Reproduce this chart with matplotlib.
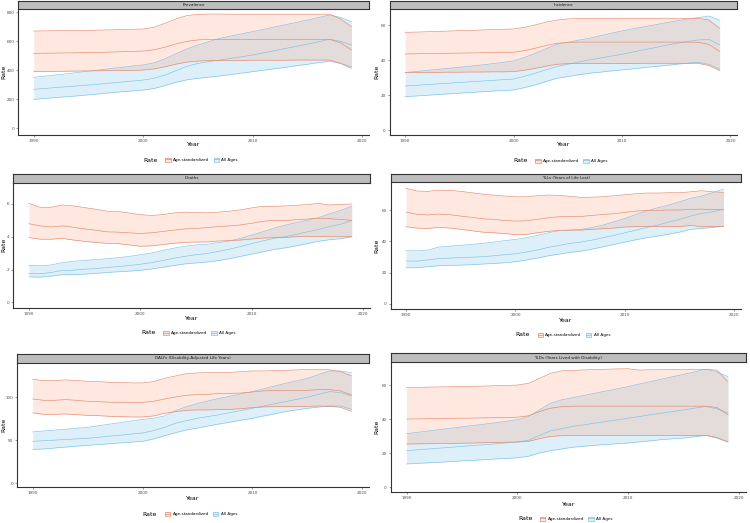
import numpy as np
import matplotlib
matplotlib.use("Agg")
import matplotlib.pyplot as plt
from matplotlib.patches import Patch
from matplotlib.lines import Line2D

W, H = 750, 523

years = list(range(1990, 2020))

# Prevalence
prev_asr_mean = [517, 518, 519, 520, 521, 523, 524, 526, 528, 530, 533, 542, 560, 582, 600, 610, 613, 614, 614, 614,
                 614, 614, 614, 614, 614, 614, 614, 614, 590, 540]
prev_asr_upper = [671, 672, 673, 674, 675, 676, 677, 679, 681, 683, 685, 697, 725, 755, 778, 786, 788, 788, 787, 787,
                  787, 787, 787, 787, 787, 787, 787, 787, 755, 701]
prev_asr_lower = [391, 392, 393, 394, 395, 396, 397, 398, 399, 400, 402, 410, 425, 443, 457, 464, 467, 468, 469, 469,
                  470, 470, 470, 470, 471, 471, 471, 471, 448, 414]
prev_all_mean = [269, 275, 281, 287, 293, 299, 305, 312, 319, 326, 333, 345, 368, 398, 428, 448, 460, 471, 483, 494,
                 506, 521, 536, 551, 566, 581, 597, 614, 600, 575]
prev_all_upper = [352, 360, 368, 376, 385, 394, 403, 412, 421, 429, 437, 452, 480, 515, 548, 575, 598, 621, 637, 652,
                  667, 683, 699, 715, 731, 747, 764, 782, 765, 736]
prev_all_lower = [200, 206, 212, 218, 224, 231, 238, 245, 252, 258, 264, 275, 295, 318, 335, 345, 353, 361, 371, 381,
                  391, 401, 411, 421, 432, 442, 453, 464, 448, 425]

# Incidence
inc_asr_mean = [43.6, 43.7, 43.8, 43.9, 44.0, 44.1, 44.2, 44.3, 44.4, 44.5, 44.6, 45.5, 46.9, 48.5, 49.7, 50.3, 50.4,
                50.4, 50.4, 50.4, 50.4, 50.4, 50.4, 50.4, 50.4, 50.4, 50.4, 50.3, 49.1, 45.0]
inc_asr_upper = [56.0, 56.1, 56.3, 56.5, 56.7, 56.9, 57.1, 57.3, 57.5, 57.7, 57.9, 58.8, 60.2, 61.8, 63.0, 63.6, 63.8,
                 64.0, 64.0, 64.0, 64.0, 64.0, 64.0, 64.0, 64.0, 64.0, 64.0, 64.0, 63.0, 58.3]
inc_asr_lower = [33.0, 33.0, 33.1, 33.1, 33.2, 33.2, 33.3, 33.3, 33.4, 33.4, 33.5, 34.3, 35.4, 36.6, 37.7, 38.1, 38.2,
                 38.2, 38.2, 38.2, 38.2, 38.2, 38.3, 38.3, 38.3, 38.3, 38.3, 38.3, 37.0, 34.1]
inc_all_mean = [25.3, 25.7, 26.1, 26.5, 26.9, 27.3, 27.7, 28.1, 28.5, 28.9, 29.3, 30.9, 32.6, 34.6, 36.4, 37.7, 39.0,
                40.2, 41.3, 42.4, 43.4, 44.7, 46.0, 47.2, 48.5, 49.7, 50.7, 51.6, 52.0, 48.8]
inc_all_upper = [33.0, 33.6, 34.2, 34.8, 35.4, 36.0, 36.6, 37.3, 38.0, 38.8, 39.6, 41.6, 44.0, 46.6, 49.1, 50.3, 51.5,
                 52.6, 54.0, 55.4, 56.8, 58.0, 59.1, 60.2, 61.4, 62.5, 63.5, 64.4, 65.3, 63.0]
inc_all_lower = [19.2, 19.6, 20.0, 20.4, 20.8, 21.2, 21.6, 22.0, 22.4, 22.7, 23.0, 24.4, 25.9, 27.9, 29.7, 30.7, 31.7,
                 32.6, 33.2, 33.9, 34.5, 35.1, 35.8, 36.4, 37.0, 37.7, 38.3, 38.9, 37.7, 34.9]

# Deaths
dea_asr_mean = [4.80, 4.66, 4.60, 4.66, 4.58, 4.48, 4.40, 4.30, 4.28, 4.24, 4.20, 4.24, 4.32, 4.40, 4.48, 4.50, 4.56,
                4.62, 4.66, 4.72, 4.82, 4.94, 5.00, 4.98, 5.04, 5.08, 5.14, 5.10, 5.06, 5.00]
dea_asr_upper = [6.04, 5.80, 5.80, 5.94, 5.88, 5.78, 5.68, 5.56, 5.54, 5.45, 5.35, 5.30, 5.35, 5.45, 5.50, 5.48, 5.46,
                 5.50, 5.56, 5.64, 5.76, 5.86, 5.86, 5.88, 5.92, 5.96, 6.04, 5.94, 5.98, 6.00]
dea_asr_lower = [3.95, 3.85, 3.85, 3.90, 3.80, 3.72, 3.65, 3.60, 3.58, 3.50, 3.42, 3.44, 3.52, 3.60, 3.66, 3.68, 3.68,
                 3.74, 3.76, 3.80, 3.86, 3.92, 3.94, 3.96, 4.00, 4.01, 4.02, 4.00, 4.00, 4.00]
dea_all_mean = [1.76, 1.74, 1.82, 1.94, 1.96, 2.02, 2.06, 2.12, 2.18, 2.24, 2.32, 2.42, 2.54, 2.68, 2.80, 2.90, 2.98,
                3.10, 3.24, 3.40, 3.58, 3.74, 3.90, 4.00, 4.14, 4.30, 4.44, 4.62, 4.76, 5.00]
dea_all_upper = [2.26, 2.22, 2.28, 2.42, 2.50, 2.56, 2.60, 2.66, 2.72, 2.80, 2.90, 3.00, 3.16, 3.30, 3.42, 3.50, 3.54,
                 3.64, 3.74, 3.90, 4.10, 4.30, 4.52, 4.70, 4.86, 5.00, 5.16, 5.40, 5.60, 5.86]
dea_all_lower = [1.55, 1.53, 1.60, 1.68, 1.70, 1.72, 1.76, 1.82, 1.86, 1.90, 1.95, 2.03, 2.13, 2.24, 2.34, 2.40, 2.46,
                 2.54, 2.66, 2.80, 2.94, 3.08, 3.22, 3.32, 3.44, 3.58, 3.72, 3.82, 3.88, 4.00]

# YLLs
yll_asr_mean = [58.9, 57.4, 57.0, 57.6, 57.2, 56.3, 55.5, 54.6, 54.2, 53.5, 53.1, 53.3, 54.2, 55.2, 55.9, 56.1, 56.1,
                56.7, 57.4, 57.8, 58.7, 59.5, 60.0, 60.0, 60.2, 60.2, 60.6, 60.8, 60.4, 60.4]
yll_asr_upper = [74.1, 72.4, 72.2, 73.0, 72.8, 72.2, 71.3, 70.4, 69.8, 69.2, 68.7, 68.7, 69.4, 69.8, 69.6, 68.9, 68.3,
                 68.5, 68.7, 69.4, 70.0, 70.7, 71.1, 71.1, 71.3, 71.3, 71.9, 72.6, 71.9, 71.5]
yll_asr_lower = [49.5, 48.6, 48.4, 49.0, 48.6, 47.8, 46.9, 46.0, 45.6, 45.0, 44.5, 44.5, 45.6, 46.5, 47.1, 47.3, 47.3,
                 47.8, 48.2, 48.6, 49.3, 49.5, 49.5, 49.5, 49.5, 49.5, 50.3, 49.5, 49.5, 49.7]
yll_all_mean = [27.4, 27.4, 28.1, 29.1, 29.3, 29.6, 29.9, 30.2, 30.8, 31.5, 32.1, 33.2, 34.5, 36.2, 37.5, 38.8, 39.6,
                40.9, 42.4, 43.9, 45.6, 47.3, 49.0, 50.5, 52.5, 54.2, 56.3, 58.0, 59.1, 60.6]
yll_all_upper = [34.0, 34.0, 34.5, 36.4, 37.0, 37.5, 38.1, 38.8, 39.6, 40.5, 41.3, 42.4, 43.9, 45.6, 46.9, 47.3, 47.8,
                 49.0, 50.5, 52.7, 54.8, 57.4, 59.7, 61.7, 63.4, 65.5, 67.7, 69.2, 71.3, 73.7]
yll_all_lower = [23.1, 23.1, 23.8, 24.4, 24.6, 24.8, 25.1, 25.5, 25.9, 26.3, 27.0, 28.1, 29.3, 30.8, 31.9, 33.0, 33.8,
                 35.1, 36.6, 38.1, 39.6, 41.1, 42.4, 43.5, 44.7, 46.0, 47.8, 48.4, 49.0, 49.9]

# DALYs
daly_asr_mean = [98.0, 96.5, 96.5, 97.3, 96.5, 95.3, 94.9, 94.2, 94.2, 93.8, 94.2, 95.3, 98.0, 100.4, 102.3, 103.1,
                 103.5, 104.3, 104.6, 105.0, 106.2, 107.4, 107.8, 107.8, 107.8, 108.1, 108.9, 108.9, 107.4, 102.7]
daly_asr_upper = [120.9, 119.4, 119.4, 120.2, 119.4, 118.6, 118.2, 117.4, 117.4, 116.7, 116.7, 118.2, 122.0, 124.8,
                  127.5, 128.3, 128.6, 129.0, 129.0, 129.8, 130.6, 130.6, 131.0, 131.4, 131.8, 132.2, 132.6, 132.0,
                  129.8, 124.8]
daly_asr_lower = [81.8, 80.2, 80.2, 80.6, 79.8, 79.0, 78.6, 77.9, 77.5, 77.1, 77.1, 78.3, 81.4, 83.3, 84.9, 85.3, 85.3,
                  85.7, 86.0, 86.8, 88.0, 88.8, 89.1, 89.1, 89.1, 89.5, 89.9, 89.5, 88.4, 83.7]
daly_all_mean = [48.8, 49.5, 50.2, 50.9, 51.6, 52.3, 53.5, 54.8, 56.0, 57.3, 58.5, 61.2, 65.1, 69.8, 72.9, 75.6, 77.7,
                 79.8, 82.3, 84.7, 87.2, 89.8, 92.4, 95.0, 97.5, 100.0, 103.3, 106.6, 105.4, 101.6]
daly_all_upper = [59.7, 60.8, 61.9, 62.9, 64.0, 65.1, 66.9, 68.8, 70.6, 72.5, 74.4, 75.6, 78.3, 84.5, 89.1, 93.0, 95.9,
                  98.8, 101.4, 104.0, 106.6, 109.8, 113.0, 116.3, 119.1, 122.0, 126.3, 130.6, 130.6, 128.7]
daly_all_lower = [39.5, 39.9, 41.0, 42.1, 43.2, 44.2, 45.1, 46.0, 47.0, 47.9, 48.8, 51.6, 55.4, 58.9, 62.0, 64.3, 66.7,
                  69.0, 71.2, 73.4, 75.6, 78.2, 80.7, 83.3, 85.3, 87.2, 88.6, 89.9, 89.9, 86.0]

# YLDs
yld_asr_mean = [40.0, 40.1, 40.2, 40.3, 40.4, 40.5, 40.6, 40.7, 40.8, 40.9, 41.1, 41.9, 44.4, 46.4, 47.3, 47.6, 47.6,
                47.6, 47.6, 47.6, 47.6, 47.6, 47.6, 47.6, 47.6, 47.6, 47.6, 47.6, 46.8, 42.5]
yld_asr_upper = [58.5, 58.6, 58.8, 58.9, 59.0, 59.2, 59.3, 59.4, 59.6, 59.8, 60.0, 61.0, 63.9, 66.9, 68.4, 68.6, 68.9,
                 69.2, 69.3, 69.5, 69.6, 68.8, 69.0, 69.0, 69.1, 69.1, 69.2, 69.2, 68.8, 62.0]
yld_asr_lower = [25.3, 25.4, 25.5, 25.6, 25.7, 25.8, 25.9, 26.1, 26.2, 26.4, 26.5, 26.9, 28.5, 29.8, 30.2, 30.4, 30.4,
                 30.4, 30.4, 30.4, 30.4, 30.4, 30.4, 30.4, 30.4, 30.4, 30.4, 30.4, 29.2, 26.5]
yld_all_mean = [21.4, 21.9, 22.4, 22.9, 23.4, 23.9, 24.4, 24.9, 25.4, 26.0, 26.5, 27.5, 30.4, 33.1, 34.3, 35.7, 36.6,
                37.6, 38.6, 39.5, 40.5, 41.5, 42.5, 43.5, 44.4, 45.4, 46.4, 47.4, 46.0, 43.5]
yld_all_upper = [31.4, 32.2, 33.0, 33.8, 34.6, 35.4, 36.2, 37.0, 37.8, 38.7, 39.6, 41.5, 45.4, 49.3, 51.3, 52.6, 53.9,
                 55.2, 56.5, 57.8, 59.1, 60.6, 62.0, 63.5, 64.9, 66.3, 67.8, 69.4, 67.8, 64.9]
yld_all_lower = [13.6, 13.9, 14.3, 14.6, 15.0, 15.4, 15.7, 16.1, 16.5, 16.8, 17.2, 18.1, 20.1, 21.4, 22.4, 23.4, 24.0,
                 24.6, 25.0, 25.5, 25.9, 26.6, 27.2, 27.9, 28.4, 28.8, 29.6, 30.4, 28.8, 26.5]

titles = ["Prevalence", "Incidence", "Deaths", "YLLs (Years of Life Lost)",
          "DALYs (Disability-Adjusted Life Years)", "YLDs (Years Lived with Disability)"]
legend_labels = ["Age-standardized", "All Ages"]

ORANGE_LINE = "#E5886C"
ORANGE_FILL = "#FC8D62"
BLUE_LINE = "#7FC2E4"
BLUE_FILL = "#56B4E9"

panels = [
    (prev_asr_mean, prev_asr_lower, prev_asr_upper, prev_all_mean, prev_all_lower, prev_all_upper),
    (inc_asr_mean, inc_asr_lower, inc_asr_upper, inc_all_mean, inc_all_lower, inc_all_upper),
    (dea_asr_mean, dea_asr_lower, dea_asr_upper, dea_all_mean, dea_all_lower, dea_all_upper),
    (yll_asr_mean, yll_asr_lower, yll_asr_upper, yll_all_mean, yll_all_lower, yll_all_upper),
    (daly_asr_mean, daly_asr_lower, daly_asr_upper, daly_all_mean, daly_all_lower, daly_all_upper),
    (yld_asr_mean, yld_asr_lower, yld_asr_upper, yld_all_mean, yld_all_lower, yld_all_upper),
]

# layout in pixels: left, right, bottom, top of panel, strip top, year label y, legend y
boxes = [
    (18.3, 369, 135, 9, 0.5, 145, 160),
    (390, 737, 135, 9, 0.5, 145, 161),
    (13.3, 369.5, 307.5, 182.7, 174, 318, 333),
    (390.7, 741, 309, 181.7, 174, 320, 335),
    (17.3, 369, 487.3, 362.7, 354.3, 499, 514),
    (391, 745.7, 492.3, 362.3, 353.3, 504, 519),
]
ylims = [(-46, 823), (-2.7, 69.3), (-0.32, 7.3), (-3.4, 78.4), (-4.65, 140.2), (-3.1, 73.4)]
yticks = [[0, 200, 400, 600, 800], [0, 20, 40, 60], [0, 2, 4, 6], [0, 20, 40, 60], [0, 50, 100], [0, 20, 40, 60]]
ylabel_x = [3.5, 377, 3.5, 377, 3.5, 377]


def fx(px):
    return px / W


def fy(py):
    return 1 - py / H


fig = plt.figure(figsize=(W / 100, H / 100), dpi=100)

for i, data in enumerate(panels):
    left, right, bottom, top, stop, ylab_y, leg_y = boxes[i]
    ax = fig.add_axes([fx(left), fy(bottom), fx(right - left), (bottom - top) / H])
    asr_m, asr_l, asr_u, all_m, all_l, all_u = data

    ax.fill_between(years, all_l, all_u, color=BLUE_FILL, alpha=0.2, lw=0)
    ax.fill_between(years, asr_l, asr_u, color=ORANGE_FILL, alpha=0.2, lw=0)
    for ys in (all_l, all_u, all_m):
        ax.plot(years, ys, color=BLUE_LINE, lw=0.45)
    for ys in (asr_l, asr_u, asr_m):
        ax.plot(years, ys, color=ORANGE_LINE, lw=0.45)

    ax.set_xlim(1988.6, 2020.6)
    ax.set_ylim(*ylims[i])
    ax.set_xticks([1990, 2000, 2010, 2020])
    ax.set_yticks(yticks[i])
    ax.tick_params(labelsize=3, colors="#4D4D4D", length=1.5, width=0.4, pad=1.5)
    for s in ("top", "right"):
        ax.spines[s].set_visible(False)
    for s in ("left", "bottom"):
        ax.spines[s].set_linewidth(0.8)
        ax.spines[s].set_color("#333333")

    # y label placed by hand so it stays inside the figure
    fig.text(fx(ylabel_x[i]), fy((top + bottom) / 2), "Rate", rotation=90, ha="center", va="center", fontsize=4.5)

    # strip
    sax = fig.add_axes([fx(left), fy(top), fx(right - left), (top - stop) / H])
    sax.set_facecolor("#BDBDBD")
    sax.set_xticks([])
    sax.set_yticks([])
    for s in sax.spines.values():
        s.set_linewidth(0.8)
        s.set_color("#333333")
    sax.text(0.5, 0.5, titles[i], ha="center", va="center", fontsize=3, color="#1A1A1A",
             transform=sax.transAxes)

    cx = (left + right) / 2
    fig.text(fx(cx), fy(ylab_y), "Year", ha="center", va="center", fontsize=4.5)

    handles = [(Patch(facecolor=ORANGE_FILL, alpha=0.2, edgecolor="none"),
                Patch(facecolor="none", edgecolor=ORANGE_LINE, lw=0.5),
                Line2D([0], [0], color=ORANGE_LINE, lw=0.5)),
               (Patch(facecolor=BLUE_FILL, alpha=0.2, edgecolor="none"),
                Patch(facecolor="none", edgecolor=BLUE_LINE, lw=0.5),
                Line2D([0], [0], color=BLUE_LINE, lw=0.5))]
    fig.text(fx(cx - 36), fy(leg_y), "Rate", ha="right", va="center", fontsize=4.5)
    fig.legend(handles, legend_labels, loc="center", bbox_to_anchor=(fx(cx + 8), fy(leg_y)), ncol=2,
               frameon=False, fontsize=3, handlelength=1.3, handleheight=1.3, handletextpad=0.6,
               columnspacing=1.0, borderpad=0)

fig.savefig("out.png", dpi=100)
